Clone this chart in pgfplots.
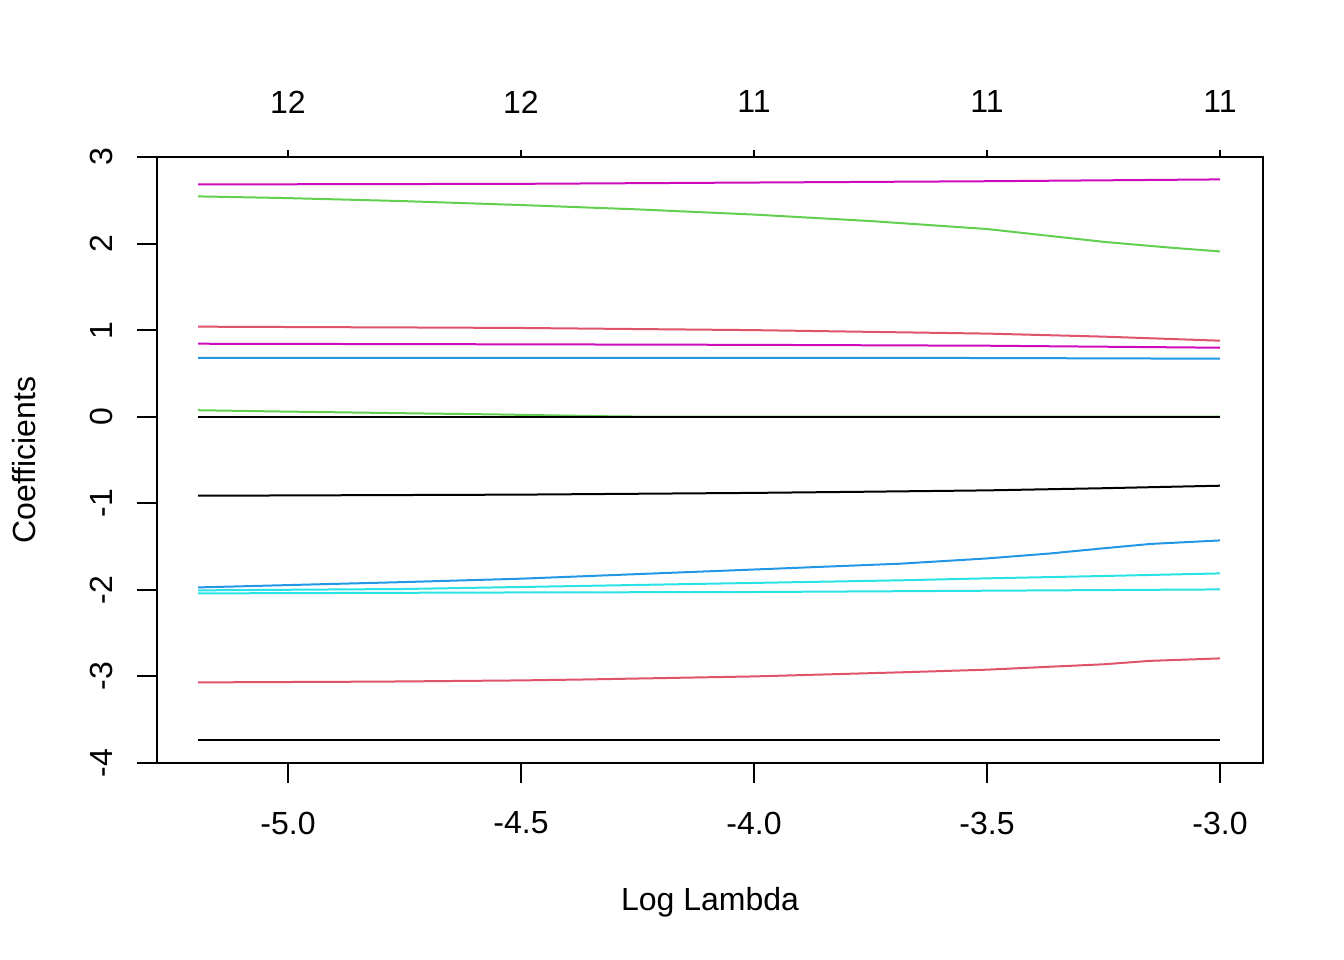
\documentclass[border=0pt]{standalone}
\usepackage{fontspec}
\setmainfont{Liberation Sans}
\usepackage{pgfplots}
\pgfplotsset{compat=1.18}
\definecolor{rblack}{HTML}{000000}
\definecolor{rred}{HTML}{DF536B}
\definecolor{rgreen}{HTML}{61D04F}
\definecolor{rblue}{HTML}{2297E6}
\definecolor{rcyan}{HTML}{28E2E5}
\definecolor{rmag}{HTML}{CD0BBC}
\begin{document}
\fontsize{16bp}{19bp}\selectfont
\begin{tikzpicture}
\path[use as bounding box] (0,0) rectangle (672bp,480bp);
\begin{axis}[
  at={(78.5bp,98.5bp)}, anchor=south west,
  scale only axis, width=553bp, height=303bp,
  xmin=-5.2811, xmax=-2.9077, ymin=-4, ymax=3,
  axis line style={line width=1bp},
  tick style={line width=1bp, black},
  tick align=outside, major tick length=10bp,
  xtick pos=lower, ytick pos=left,
  xtick={-5,-4.5,-4,-3.5,-3}, xticklabels={-5.0,-4.5,-4.0,-3.5,-3.0},
  ytick={-4,-3,-2,-1,0,1,2,3}, yticklabels={-4,-3,-2,-1,0,1,2,3},
  xticklabel style={anchor=center, font=\fontsize{16bp}{19bp}\selectfont},
  yticklabel style={rotate=90, anchor=center, font=\fontsize{16bp}{19bp}\selectfont},
  xticklabel shift=20bp, yticklabel shift=18bp,
  clip=true,
  every axis plot/.append style={line width=1bp},
]
% small green going to zero
\addplot[rgreen] coordinates {(-5.193,0.075) (-5.04,0.062) (-4.88,0.050) (-4.72,0.038) (-4.55,0.026) (-4.43,0.015) (-4.30,0.004) (-4.2,0) (-3.0,0)};
\addplot[rblack] coordinates {(-5.193,0) (-3.0,0)};
% top magenta
\addplot[rmag] coordinates {(-5.193,2.683) (-4.5,2.69) (-4.0,2.705) (-3.5,2.72) (-3.0,2.741)};
% top green
\addplot[rgreen] coordinates {(-5.193,2.545) (-5.0,2.525) (-4.75,2.49) (-4.5,2.445) (-4.25,2.395) (-4.0,2.335) (-3.75,2.26) (-3.5,2.168) (-3.25,2.02) (-3.107,1.953) (-3.0,1.909)};
% upper red
\addplot[rred] coordinates {(-5.193,1.040) (-4.7,1.03) (-4.5,1.025) (-4.0,1.00) (-3.5,0.96) (-3.25,0.925) (-3.0,0.878)};
% lower magenta
\addplot[rmag] coordinates {(-5.193,0.843) (-4.5,0.836) (-4.0,0.830) (-3.5,0.82) (-3.0,0.797)};
% upper blue
\addplot[rblue] coordinates {(-5.193,0.68) (-4.0,0.68) (-3.5,0.678) (-3.0,0.67)};
% black -0.9
\addplot[rblack] coordinates {(-5.193,-0.913) (-4.5,-0.90) (-4.0,-0.88) (-3.75,-0.866) (-3.5,-0.851) (-3.25,-0.826) (-3.0,-0.797)};
% lower blue
\addplot[rblue] coordinates {(-5.193,-1.972) (-4.75,-1.91) (-4.5,-1.871) (-4.245,-1.817) (-4.0,-1.765) (-3.687,-1.698) (-3.5,-1.637) (-3.365,-1.58) (-3.25,-1.52) (-3.15,-1.47) (-3.0,-1.429)};
% cyan upper
\addplot[rcyan] coordinates {(-5.193,-2.006) (-4.75,-1.99) (-4.5,-1.967) (-4.0,-1.92) (-3.687,-1.89) (-3.5,-1.867) (-3.25,-1.84) (-3.0,-1.81)};
% cyan lower
\addplot[rcyan] coordinates {(-5.193,-2.041) (-4.5,-2.03) (-4.0,-2.025) (-3.5,-2.01) (-3.0,-1.995)};
% lower red
\addplot[rred] coordinates {(-5.193,-3.069) (-4.8,-3.06) (-4.5,-3.046) (-4.36,-3.035) (-4.0,-3.0) (-3.687,-2.953) (-3.5,-2.922) (-3.365,-2.888) (-3.25,-2.86) (-3.15,-2.82) (-3.0,-2.792)};
% bottom black
\addplot[rblack] coordinates {(-5.193,-3.731) (-3.0,-3.731)};
\end{axis}
\begin{axis}[
  at={(78.5bp,98.5bp)}, anchor=south west,
  scale only axis, width=553bp, height=303bp,
  xmin=-5.2811, xmax=-2.9077, ymin=-4, ymax=3,
  axis x line*=top, hide y axis,
  axis line style={draw=none},
  tick style={line width=1bp, black},
  tick align=outside, major tick length=3.5bp,
  xtick={-5,-4.5,-4,-3.5,-3}, xticklabels={12,12,11,11,11},
  xticklabel style={anchor=center, font=\fontsize{16bp}{19bp}\selectfont},
  xticklabel shift=24bp,
]
\addplot[draw=none] coordinates {(-5,0) (-3,0)};
\end{axis}
\node[anchor=center] at (355bp,29bp) {Log Lambda};
\node[anchor=center, rotate=90] at (12bp,250bp) {Coefficients};
\end{tikzpicture}
\end{document}
